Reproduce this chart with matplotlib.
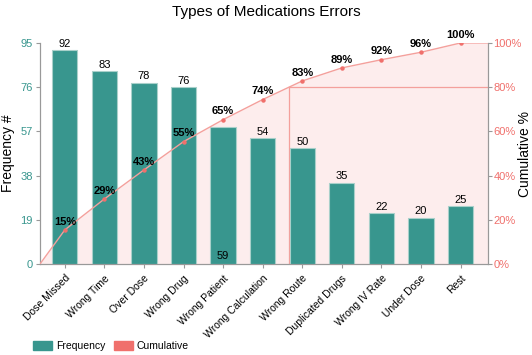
import numpy as np
import matplotlib
matplotlib.use("Agg")
import matplotlib.pyplot as plt
from matplotlib.patches import Patch
from matplotlib.ticker import FuncFormatter

plt.rcParams["font.family"] = ["Liberation Sans", "DejaVu Sans"]

categories = ["Dose Missed", "Wrong Time", "Over Dose", "Wrong Drug", "Wrong Patient",
              "Wrong Calculation", "Wrong Route", "Duplicated Drugs", "Wrong IV Rate",
              "Under Dose", "Rest"]
frequency = [92, 83, 78, 76, 59, 54, 50, 35, 22, 20, 25]
freq_ticks = [0, 19, 38, 57, 76, 95]
pct_ticks = [0, 20, 40, 60, 80, 100]

teal = "#38968e"
salmon = "#f0706c"
line_col = "#f4a09c"
fill_col = "#fdeded"
spine_col = "#999999"

freq = np.array(frequency, dtype=float)
cum = np.cumsum(freq) / freq.sum() * 100
x = np.arange(len(categories))
x_lo, x_hi = -0.63, 10.69

fig = plt.figure(figsize=(5.32, 3.55), dpi=100)
ax = fig.add_axes([0.075, 0.256, 0.842, 0.623])
ax2 = ax.twinx()

# cumulative area (behind bars) on the right axis
cx = np.concatenate([[x_lo], x, [x_hi]])
cy = np.concatenate([[0], cum, [100]])
ax.set_zorder(ax2.get_zorder() + 1)
ax.patch.set_visible(False)
ax2.fill_between(cx, 0, cy, color=fill_col, zorder=1, lw=0)

# 80% reference lines
x80 = np.interp(80, cy, cx)
ax2.plot([x80, x_hi], [80, 80], color=line_col, lw=0.9, zorder=2)
ax2.plot([x80, x80], [0, 80], color=line_col, lw=0.9, zorder=2)

# bars
ax.bar(x, freq, width=0.64, color=teal, edgecolor="#a9d0ca", linewidth=0.8, zorder=2)
for i, v in enumerate(frequency):
    if v == 59:
        ax.text(i, 1.5, str(v), ha="center", va="bottom", fontsize=8, zorder=5)
    else:
        ax.text(i, v + 0.5, str(v), ha="center", va="bottom", fontsize=8, zorder=5)

# cumulative line drawn on top of bars, mapped to freq axis coordinates
scale = 95 / 100
ax.plot(cx, cy * scale, color=line_col, lw=1.0, zorder=4)
ax.plot(x, cum * scale, "o", color=salmon, ms=2.2, zorder=4)
for i, c in enumerate(cum):
    ax.text(i, c * scale + 1.4, f"{round(c):d}%", ha="center", va="bottom",
            fontsize=8, fontweight="bold", zorder=5)

ax.set_xlim(x_lo, x_hi)
ax.set_ylim(0, 95)
ax2.set_ylim(0, 100)
ax.set_yticks(freq_ticks)
ax2.set_yticks(pct_ticks)
ax2.yaxis.set_major_formatter(FuncFormatter(lambda v, p: f"{v:.0f}%"))
ax.set_xticks(x)
ax.set_xticklabels(categories, rotation=45, ha="right", rotation_mode="anchor", fontsize=7.5)

ax.tick_params(axis="y", colors=spine_col, labelcolor=teal, labelsize=8, length=3, pad=2)
ax2.tick_params(axis="y", colors=spine_col, labelcolor=salmon, labelsize=8, length=3, pad=1)
ax.tick_params(axis="x", colors=spine_col, labelcolor="black", length=3)

for a in (ax, ax2):
    a.spines["top"].set_visible(False)
    for s in ("left", "right", "bottom"):
        a.spines[s].set_color(spine_col)

ax.set_ylabel("Frequency #", fontsize=10, labelpad=4)
fig.text(0.986, 0.567, "Cumulative %", rotation=90, ha="center", va="center", fontsize=10)
fig.suptitle("Types of Medications Errors", fontsize=11, y=0.985)

handles = [Patch(color=teal, label="Frequency"), Patch(color=salmon, label="Cumulative")]
fig.legend(handles=handles, loc="lower left", bbox_to_anchor=(0.045, -0.015), ncol=2,
           frameon=False, fontsize=7.5, handlelength=1.8, handleheight=0.9, columnspacing=0.8,
           handletextpad=0.4)

fig.savefig("out.png", dpi=100)
